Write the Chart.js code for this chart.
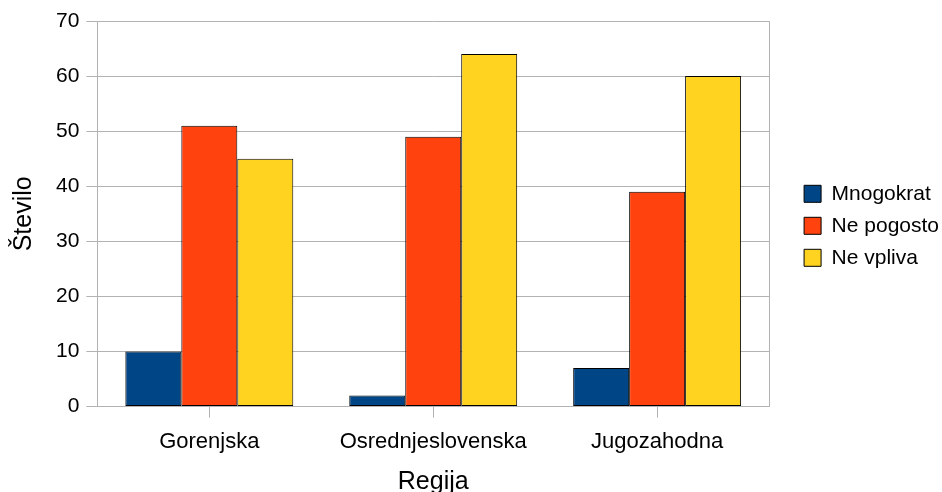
<!DOCTYPE html>
<html>
<head>
<meta charset="utf-8">
<script src="https://cdn.jsdelivr.net/npm/chart.js@4"></script>
<style>
  html, body { margin: 0; padding: 0; background: #fff; overflow: hidden; }
  #wrap { width: 942px; height: 492px; overflow: hidden; }
</style>
</head>
<body>
<div id="wrap"><canvas id="chart" width="942" height="497"></canvas></div>
<script>
const regions = ["Gorenjska", "Osrednjeslovenska", "Jugozahodna"];
const mnogokrat = [10, 2, 7];
const nePogosto = [51, 49, 39];
const neVpliva = [45, 64, 60];

const gridColor = "#b3b3b3";
const font = "'Liberation Sans', Arial, sans-serif";

const ctx = document.getElementById("chart").getContext("2d");

new Chart(ctx, {
  type: "bar",
  data: {
    labels: regions,
    datasets: [
      { label: "Mnogokrat", data: mnogokrat, backgroundColor: "#004586" },
      { label: "Ne pogosto", data: nePogosto, backgroundColor: "#ff420e" },
      { label: "Ne vpliva", data: neVpliva, backgroundColor: "#ffd320" }
    ]
  },
  options: {
    responsive: false,
    animation: false,
    layout: { padding: { top: 21, right: -7, left: 9, bottom: 0 } },
    datasets: {
      bar: {
        categoryPercentage: 0.75,
        barPercentage: 1,
        borderColor: "#000",
        borderWidth: 1,
        borderSkipped: false
      }
    },
    plugins: {
      legend: {
        position: "right",
        fullSize: false,
        // empty title only pushes the entries a little lower, as in the original
        title: { display: true, text: " ", font: { size: 20 }, padding: 0 },
        labels: {
          boxWidth: 17,
          boxHeight: 17,
          padding: 11,
          color: "#000",
          font: { family: font, size: 21 },
          useBorderRadius: false
        }
      },
      tooltip: { enabled: false }
    },
    scales: {
      x: {
        grid: {
          offset: false,
          drawOnChartArea: false,
          drawTicks: true,
          tickLength: 11,
          color: gridColor
        },
        border: { color: gridColor },
        ticks: { color: "#000", font: { family: font, size: 22 }, padding: 11 },
        title: {
          display: true,
          text: "Regija",
          color: "#000",
          font: { family: font, size: 25 },
          padding: { top: 1, bottom: 0 }
        }
      },
      y: {
        min: 0,
        max: 70,
        ticks: { stepSize: 10, color: "#000", font: { family: font, size: 21 }, padding: 7 },
        grid: { color: gridColor, tickLength: 11 },
        border: { color: gridColor },
        title: {
          display: true,
          text: "Število",
          color: "#000",
          font: { family: font, size: 25 },
          padding: { top: 0, bottom: 10 }
        }
      },
      y2: {
        position: "right",
        min: 0,
        max: 70,
        grid: { display: false },
        ticks: { display: false },
        border: { color: gridColor },
        afterFit(scale) {
          scale.width = 24;
        }
      }
    }
  }
});
</script>
</body>
</html>
